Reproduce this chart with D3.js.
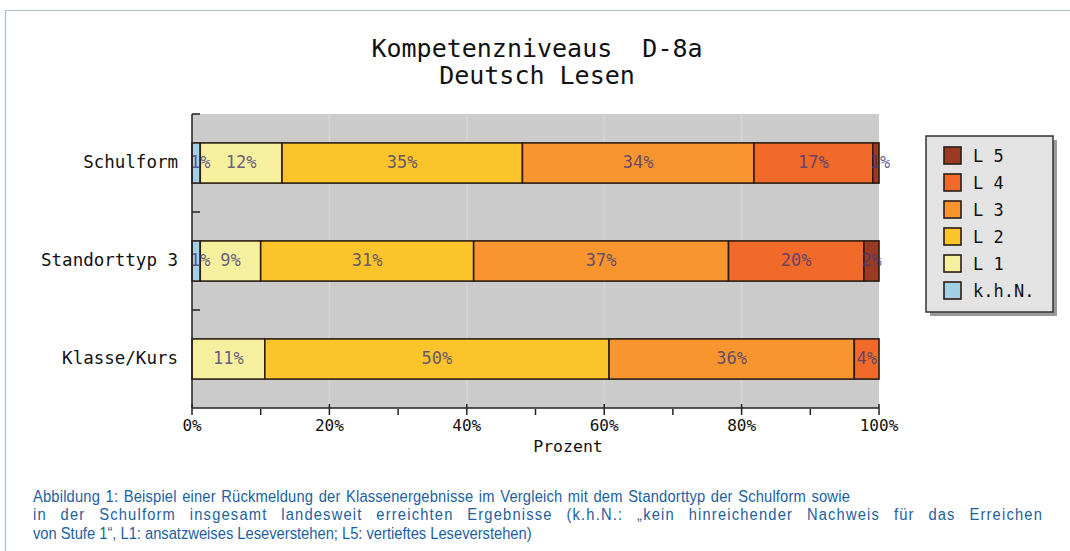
<!DOCTYPE html>
<html>
<head>
<meta charset="utf-8">
<script src="https://cdn.jsdelivr.net/npm/d3@7"></script>
<style>
  body { margin: 0; background: #fff; }
  svg { display: block; }
</style>
</head>
<body>
<div id="chart"></div>
<script>
// rows of the chart, top to bottom
const categories = ["Schulform", "Standorttyp 3", "Klasse/Kurs"];
// levels, in stacking order (left to right)
const levels = ["k.h.N.", "L 1", "L 2", "L 3", "L 4", "L 5"];
const levelColors = ["#a3d0e4", "#f5ef9e", "#fcc42b", "#f8952e", "#f26a2a", "#9a3a22"];

// percent per level, one value per category
const khnValues = [1.2, 1.2, 0];
const l1Values = [11.9, 8.8, 10.6];
const l2Values = [35.0, 31.0, 50.1];
const l3Values = [33.7, 37.1, 35.7];
const l4Values = [17.3, 19.7, 3.6];
const l5Values = [0.9, 2.2, 0];

const xTicks = [0, 20, 40, 60, 80, 100];
const xMinorTicks = [10, 30, 50, 70, 90];

const titleLines = ["Kompetenzniveaus  D-8a", "Deutsch Lesen"];
const xAxisTitle = "Prozent";
const captionLines = [
  "Abbildung 1: Beispiel einer Rückmeldung der Klassenergebnisse im Vergleich mit dem Standorttyp der Schulform sowie",
  "in der Schulform insgesamt landesweit erreichten Ergebnisse (k.h.N.: \u201Ekein hinreichender Nachweis für das Erreichen",
  "von Stufe 1\u201C, L1: ansatzweises Leseverstehen; L5: vertieftes Leseverstehen)"
];

class StackedLevels {
  constructor(_config) {
    this.config = {
      parentElement: _config.parentElement,
      containerWidth: _config.containerWidth || 1070,
      containerHeight: _config.containerHeight || 551,
      margin: {top: 114, left: 192, width: 687, height: 294}
    };
    this.initVis();
  }

  initVis() {
    let vis = this;
    vis.svg = d3.select(vis.config.parentElement).append('svg')
      .attr('width', vis.config.containerWidth)
      .attr('height', vis.config.containerHeight);

    // table built from the level arrays
    const series = [khnValues, l1Values, l2Values, l3Values, l4Values, l5Values];
    vis.rows = categories.map((c, i) => {
      const row = {category: c};
      levels.forEach((l, j) => row[l] = series[j][i]);
      return row;
    });
    vis.renderVis();
  }

  renderVis() {
    let vis = this;
    const m = vis.config.margin;
    const mono = "'DejaVu Sans Mono', monospace";

    // page frame
    vis.svg.append("path")
      .attr("d", `M5.5,551 V10.5 H1070`)
      .attr("fill", "none")
      .attr("stroke", "#aabdd0")
      .attr("stroke-width", 1.2);

    // titles
    vis.svg.selectAll(".title").data(titleLines).join("text")
      .attr("x", 537)
      .attr("y", (d, i) => 57 + i * 27)
      .attr("text-anchor", "middle")
      .style("white-space", "pre")
      .style("font-family", mono)
      .style("font-size", "25px")
      .attr("fill", "#111")
      .text(d => d);

    const chart = vis.svg.append("g")
      .attr("transform", `translate(${m.left},${m.top})`);

    const x = d3.scaleLinear().domain([0, 100]).range([0, m.width]);
    const y = d3.scaleBand().domain(categories).range([0, m.height]).paddingInner(0.59).paddingOuter(0.295);

    chart.append("rect")
      .attr("width", m.width).attr("height", m.height)
      .attr("fill", "#cbcbcb");

    // light vertical grid lines
    chart.selectAll(".grid").data(xTicks.slice(1, -1)).join("line")
      .attr("x1", d => x(d)).attr("x2", d => x(d))
      .attr("y1", 0).attr("y2", m.height)
      .attr("stroke", "#d6d6d6").attr("stroke-width", 1.5);

    const stack = d3.stack().keys(levels);
    const stacked = stack(vis.rows);

    const layer = chart.selectAll(".layer").data(stacked).join("g")
      .attr("fill", (d, i) => levelColors[i]);

    layer.selectAll("rect").data(d => d.filter(s => s[1] - s[0] > 0)).join("rect")
      .attr("x", d => x(d[0]))
      .attr("y", d => y(d.data.category))
      .attr("width", d => x(d[1]) - x(d[0]))
      .attr("height", y.bandwidth())
      .attr("stroke", "#2b1d14")
      .attr("stroke-width", 1.6);

    // percentage labels, drawn above every segment
    const fmt = d => Math.round(d) + "%";
    const segs = stacked.flatMap(d => d.filter(s => s[1] - s[0] > 0));
    chart.append("g").selectAll("text").data(segs).join("text")
      .attr("x", d => x((d[0] + d[1]) / 2) + ((d[1] - d[0]) < 2 ? 4 : 0))
      .attr("y", d => y(d.data.category) + y.bandwidth() / 2 + 5)
      .attr("text-anchor", "middle")
      .style("font-family", mono)
      .style("font-size", "17px")
      .attr("fill", "#3e3a78")
      .attr("fill-opacity", 0.8)
      .text(d => fmt(d[1] - d[0]));

    // y axis
    chart.append("line").attr("x1", 0).attr("x2", 0).attr("y1", 0).attr("y2", m.height)
      .attr("stroke", "#222").attr("stroke-width", 1.5);
    const yTickPos = [0, m.height / 3, 2 * m.height / 3];
    chart.selectAll(".ytick").data(yTickPos).join("line")
      .attr("x1", 0).attr("x2", 8).attr("y1", d => d).attr("y2", d => d)
      .attr("stroke", "#222").attr("stroke-width", 1.5);
    chart.selectAll(".ylab").data(categories).join("text")
      .attr("x", -14)
      .attr("y", d => y(d) + y.bandwidth() / 2 + 5)
      .attr("text-anchor", "end")
      .style("font-family", mono)
      .style("font-size", "17.5px")
      .attr("fill", "#111")
      .text(d => d);

    // x axis
    chart.append("line").attr("x1", 0).attr("x2", m.width).attr("y1", m.height).attr("y2", m.height)
      .attr("stroke", "#222").attr("stroke-width", 1.5);
    chart.selectAll(".xtick").data(xTicks).join("line")
      .attr("x1", d => x(d)).attr("x2", d => x(d))
      .attr("y1", m.height - 4).attr("y2", m.height + 7)
      .attr("stroke", "#222").attr("stroke-width", 1.5);
    chart.selectAll(".xminor").data(xMinorTicks).join("line")
      .attr("x1", d => x(d)).attr("x2", d => x(d))
      .attr("y1", m.height + 1).attr("y2", m.height + 7)
      .attr("stroke", "#222").attr("stroke-width", 1.5);
    chart.selectAll(".xlab").data(xTicks).join("text")
      .attr("x", d => x(d))
      .attr("y", m.height + 23)
      .attr("text-anchor", "middle")
      .style("font-family", mono)
      .style("font-size", "16px")
      .attr("fill", "#111")
      .text(d => d + "%");
    chart.append("text")
      .attr("x", 376).attr("y", m.height + 44)
      .attr("text-anchor", "middle")
      .style("font-family", mono)
      .style("font-size", "16.5px")
      .attr("fill", "#111")
      .text(xAxisTitle);

    // legend
    const lg = vis.svg.append("g").attr("transform", "translate(926,136)");
    lg.append("rect").attr("x", 4).attr("y", 4).attr("width", 127).attr("height", 176).attr("fill", "#9a9a9a");
    lg.append("rect").attr("width", 127).attr("height", 176)
      .attr("fill", "#e3e3e3").attr("stroke", "#333").attr("stroke-width", 1.5);
    const legendOrder = levels.map((l, i) => ({label: l, color: levelColors[i]})).reverse();
    const item = lg.selectAll(".item").data(legendOrder).join("g")
      .attr("transform", (d, i) => `translate(18,${11 + i * 27})`);
    item.append("rect").attr("width", 17).attr("height", 17)
      .attr("fill", d => d.color).attr("stroke", "#2b1d14").attr("stroke-width", 1.6);
    item.append("text").attr("x", 29).attr("y", 15)
      .style("font-family", mono)
      .style("font-size", "17px")
      .attr("fill", "#111")
      .text(d => d.label);

    // caption: condensed look by squeezing horizontally so the last line ends where it does,
    // the two upper lines are set wider in the original, so spread letters and words
    const capWidths = [817, 1010, 499];
    const cap = vis.svg.append("g");
    const capText = cap.selectAll("text").data(captionLines).join("text")
      .attr("x", 0)
      .attr("y", (d, i) => 502 + i * 18.5)
      .style("font-family", "'Liberation Sans', sans-serif")
      .style("font-size", "16px")
      .attr("fill", "#1d5f9f")
      .text(d => d);
    const nodes = capText.nodes();
    const squeeze = capWidths[2] / nodes[2].getComputedTextLength();
    cap.attr("transform", `translate(33,0) scale(${squeeze},1)`);
    [0, 1].forEach(i => {
      const extra = capWidths[i] / squeeze - nodes[i].getComputedTextLength();
      if (extra <= 0) return;
      const chars = captionLines[i].length;
      const gaps = captionLines[i].split(" ").length - 1;
      d3.select(nodes[i])
        .style("letter-spacing", (extra * 0.55 / chars) + "px")
        .style("word-spacing", (extra * 0.45 / gaps) + "px");
    });
  }
}

new StackedLevels({parentElement: '#chart'});
</script>
</body>
</html>
